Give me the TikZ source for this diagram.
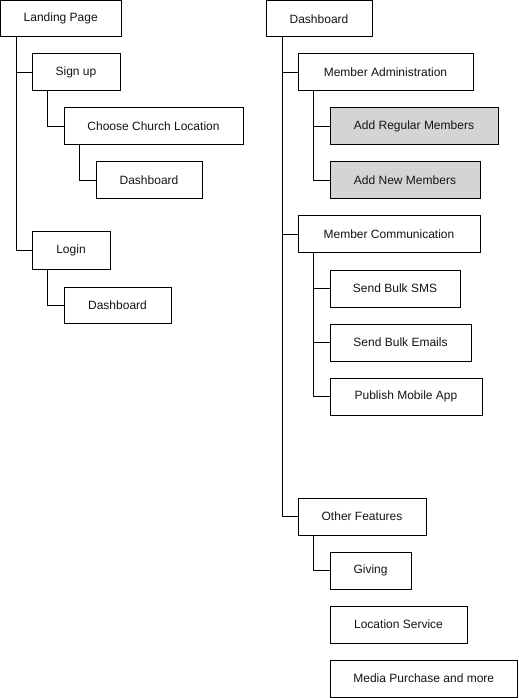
\documentclass[tikz,border=0pt]{standalone}
\usepackage{fontspec}
\setmainfont{Liberation Sans}
\definecolor{boxgray}{RGB}{212,212,212}
\definecolor{txt}{RGB}{20,20,20}
\tikzset{
  box/.style={draw=black, line width=0.75pt, fill=white, inner sep=0pt, text=txt, font=\fontsize{9}{11}\selectfont},
  shaded/.style={box, fill=boxgray},
  link/.style={draw=black, line width=0.75pt}
}
\newcommand\bx[7][box]{\node[#1, minimum width={(#5-#3)*0.75pt}, minimum height={(#6-#4)*0.75pt}] (#2) at ({(#3+#5)/2},{(#4+#6)/2}) {#7};}
\begin{document}
\begin{tikzpicture}[x=0.75pt, y=-0.75pt]
\useasboundingbox (0,0) rectangle (518,698);
% left tree
\bx{lp}{0.5}{0.5}{121}{37}{Landing Page}
\bx{su}{32}{54}{120}{91}{Sign up}
\bx{ccl}{64}{108}{243}{145}{Choose Church Location}
\bx{db1}{96}{162}{202}{199}{Dashboard}
\bx{li}{32}{232}{110}{269}{Login}
\bx{db2}{64}{287}{171}{323}{Dashboard}
% right tree
\bx{db}{266}{0.5}{372}{37}{Dashboard}
\bx{ma}{298}{54}{473}{91}{Member Administration}
\bx[shaded]{arm}{330}{108}{498}{145}{Add Regular Members}
\bx[shaded]{anm}{330}{162}{480}{199}{Add New Members}
\bx{mc}{298}{216}{480}{253}{Member Communication}
\bx{sms}{330}{270}{460}{307}{Send Bulk SMS}
\bx{em}{330}{324}{471}{361}{Send Bulk Emails}
\bx{app}{330}{378}{482}{415}{Publish Mobile App}
\bx{of}{298}{498}{426}{535}{Other Features}
\bx{gv}{330}{552}{411}{589}{Giving}
\bx{ls}{330}{606}{467}{643}{Location Service}
\bx{mp}{330}{660}{517.5}{697}{Media Purchase and more}
% connectors
\draw[link] ([xshift=12pt]lp.south west) |- (su.west);
\draw[link] ([xshift=12pt]lp.south west) |- (li.west);
\draw[link] ([xshift=12pt]su.south west) |- (ccl.west);
\draw[link] ([xshift=12pt]ccl.south west) |- (db1.west);
\draw[link] ([xshift=12pt]li.south west) |- (db2.west);
\draw[link] ([xshift=12.75pt]db.south west) |- (ma.west);
\draw[link] ([xshift=12.75pt]db.south west) |- (mc.west);
\draw[link] ([xshift=12.75pt]db.south west) |- (of.west);
\draw[link] ([xshift=12pt]ma.south west) |- (arm.west);
\draw[link] ([xshift=12pt]ma.south west) |- (anm.west);
\draw[link] ([xshift=12pt]mc.south west) |- (sms.west);
\draw[link] ([xshift=12pt]mc.south west) |- (em.west);
\draw[link] ([xshift=12pt]mc.south west) |- (app.west);
\draw[link] ([xshift=12pt]of.south west) |- (gv.west);
\end{tikzpicture}
\end{document}
